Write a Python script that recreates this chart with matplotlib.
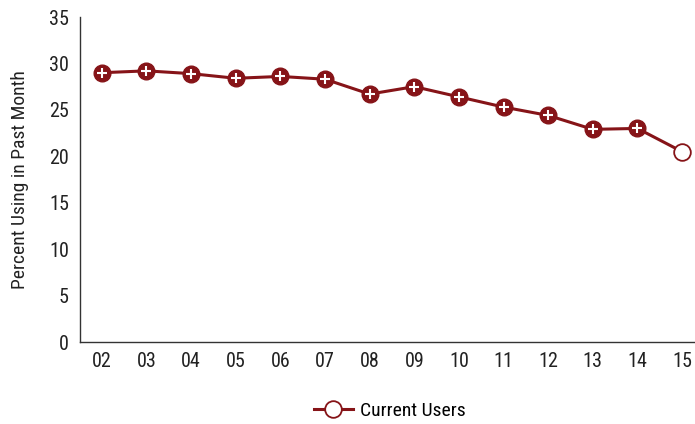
import matplotlib.pyplot as plt
from matplotlib.lines import Line2D

years = ['02', '03', '04', '05', '06', '07', '08', '09', '10', '11', '12', '13', '14', '15']
current_users = [29.0, 29.2, 28.9, 28.4, 28.6, 28.3, 26.7, 27.5, 26.4, 25.3, 24.4, 22.9, 23.0, 20.5]

red = '#861418'
plt.rcParams['font.family'] = ['Roboto Condensed', 'DejaVu Sans']

fig = plt.figure(figsize=(6.95, 4.24), dpi=100)
ax = fig.add_axes([80 / 695, 82 / 424, 615 / 695, 325 / 424])

x = list(range(len(years)))
ax.plot(x, current_users, color=red, lw=2.2, zorder=2)
ax.plot(x[:-1], current_users[:-1], 'o', ms=12, mfc=red, mec=red, zorder=3)
ax.plot(x[:-1], current_users[:-1], '+', ms=7.5, mew=1.5, color='white', zorder=4)
ax.plot(x[-1], current_users[-1], 'o', ms=12, mfc='white', mec=red, mew=1.3, zorder=3)

ax.set_xlim(-0.49, 13.29)
ax.set_ylim(0, 35)
ax.set_xticks(x)
ax.set_xticklabels(years)
ax.set_yticks(range(0, 36, 5))
ax.tick_params(length=0, labelsize=14.5, colors='#222222')
ax.tick_params(axis='x', pad=7)
ax.tick_params(axis='y', pad=8)
for s in ['top', 'right']:
    ax.spines[s].set_visible(False)
for s in ['left', 'bottom']:
    ax.spines[s].set_color('#333333')
    ax.spines[s].set_linewidth(1)
ax.set_ylabel('Percent Using in Past Month', fontsize=14, color='#222222', labelpad=14)

handle = Line2D([], [], color=red, lw=2.2, marker='o', ms=12, mfc='white', mec=red, mew=1.3)
fig.legend([handle], ['Current Users'], loc='center', bbox_to_anchor=(390 / 695, 1 - 411 / 424),
           frameon=False, fontsize=14, handlelength=2.0, handletextpad=0.4)

fig.savefig('out.png', dpi=100)
